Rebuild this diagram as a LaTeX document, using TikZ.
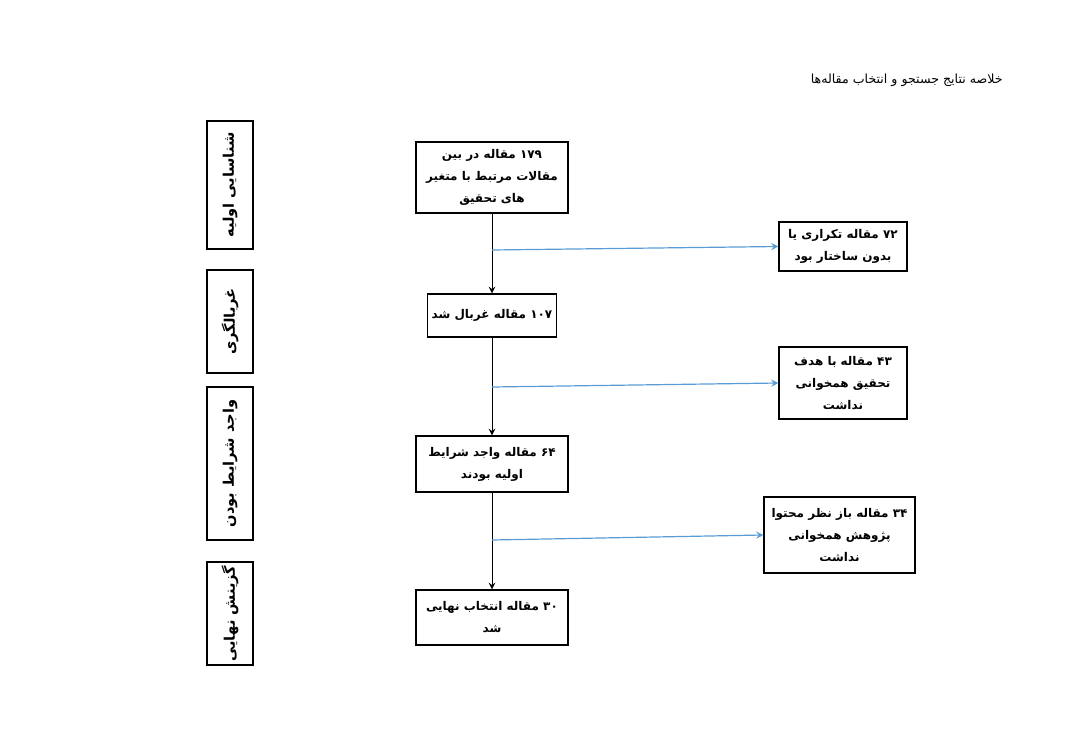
\documentclass[tikz,border=0pt]{standalone}
\usepackage{fontspec}
\newfontfamily\arabicfont[Script=Arabic]{DejaVu Sans}
\TeXXeTstate=1
\usetikzlibrary{arrows,positioning}
\definecolor{exblue}{RGB}{91,155,213}
\newcommand{\fa}[1]{\beginR #1\endR}
\tikzstyle{process} = [rectangle, minimum width=76pt, draw=black, line width=0.6pt, align=center, inner sep=1pt, font=\arabicfont\bfseries\fontsize{6}{11}\selectfont]
\tikzstyle{excluded} = [process, minimum width=64pt]
\tikzstyle{stage} = [rectangle, rotate=90, minimum height=23pt, draw=black, line width=0.6pt, inner sep=1pt, font=\arabicfont\bfseries\fontsize{7.3}{11}\selectfont]
\tikzstyle{arrow} = [line width=0.5pt,->,>=stealth,color=black]
\tikzstyle{bluearrow} = [line width=0.6pt,->,>=stealth,color=exblue]

\begin{document}
\begin{tikzpicture}[x=0.5pt, y=-0.5pt]
\useasboundingbox (0,0) rectangle (1082,733);
% Title
\node (title) [anchor=east, inner sep=0pt, font=\arabicfont\fontsize{6.3}{9}\selectfont] at (1003,80) {\fa{خلاصه نتایج جستجو و انتخاب مقاله‌ها}};
% Stages
\node (identify) [stage, minimum width=64pt] at (230,185) {\fa{شناسایی اولیه}};
\node (screen) [stage, minimum width=51.5pt] at (230,321.5) {\fa{غربالگری}};
\node (eligible) [stage, minimum width=76.5pt] at (230,463.5) {\fa{واجد شرایط بودن}};
\node (final) [stage, minimum width=51.5pt] at (230,613.5) {\fa{گزینش نهایی}};
% Main flow
\node (found) [process, minimum height=35.5pt] at (492,177.5) {\fa{۱۷۹ مقاله در بین}\\\fa{مقالات مرتبط با متغیر}\\\fa{های تحقیق}};
\node (screened) [process, minimum width=64.5pt, minimum height=21.5pt] at (492,315.5) {\fa{۱۰۷ مقاله غربال شد}};
\node (qualified) [process, minimum height=28pt] at (492,464) {\fa{۶۴ مقاله واجد شرایط}\\\fa{اولیه بودند}};
\node (selected) [process, minimum height=27.5pt] at (492,617.5) {\fa{۳۰ مقاله انتخاب نهایی}\\\fa{شد}};
% Excluded
\node (dup) [excluded, minimum height=24.5pt] at (843,246.5) {\fa{۷۲ مقاله تکراری یا}\\\fa{بدون ساختار بود}};
\node (goal) [excluded, minimum height=36pt] at (843,383) {\fa{۴۳ مقاله با هدف}\\\fa{تحقیق همخوانی}\\\fa{نداشت}};
\node (content) [excluded, minimum width=75.5pt, minimum height=38pt] at (839.5,535) {\fa{۳۴ مقاله باز نظر محتوا}\\\fa{پژوهش همخوانی}\\\fa{نداشت}};
% Connectors
\coordinate (b1) at (492,250);
\coordinate (b2) at (492,387);
\coordinate (b3) at (492,540);
\draw [arrow] (found) -- (screened);
\draw [arrow] (screened) -- (qualified);
\draw [arrow] (qualified) -- (selected);
\draw [bluearrow] (b1) -- (dup.west);
\draw [bluearrow] (b2) -- (goal.west);
\draw [bluearrow] (b3) -- (content.west);
\end{tikzpicture}
\end{document}
